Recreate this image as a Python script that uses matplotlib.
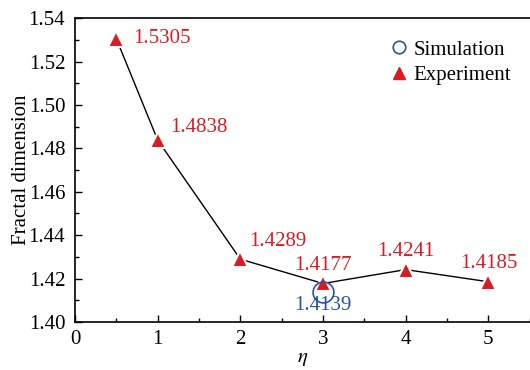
import numpy as np
import matplotlib.pyplot as plt
from matplotlib.lines import Line2D
from matplotlib.ticker import MultipleLocator

plt.rcParams['font.family'] = ['Liberation Serif', 'DejaVu Serif']
plt.rcParams['mathtext.fontset'] = 'stix'

# valeurs mesurées (experience) et simulées
eta = [0.5, 1, 2, 3, 4, 5]
fd_exp = [1.5305, 1.4838, 1.4289, 1.4177, 1.4241, 1.4185]
eta_sim = [3]
fd_sim = [1.4139]

red = '#dc1a22'
blue = '#2a52a0'

fig = plt.figure(figsize=(5.3, 3.7), dpi=100)
ax = fig.add_axes([0.1415, 0.13, 0.858, 0.821])

ax.plot(eta, fd_exp, color='black', lw=1, zorder=1)
ax.plot(eta, fd_exp, ls='none', marker='^', ms=11, mfc=red, mec='white', mew=1.5, zorder=3)
ax.plot(eta_sim, fd_sim, ls='none', marker='o', ms=15, mfc='none', mec=blue, mew=1.2, zorder=4)

# étiquettes des valeurs
offsets = [(12, 0, 'left', 'center'), (9, 9, 'left', 'center'), (6, 13, 'left', 'center'),
           (0, 6, 'center', 'bottom'), (0, 6, 'center', 'bottom'), (0, 6, 'center', 'bottom')]
for x, y, (dx, dy, ha, va) in zip(eta, fd_exp, offsets):
    ax.annotate('%.4f' % y, (x, y), xytext=(dx, dy), textcoords='offset points',
                ha=ha, va=va, color=red, fontsize=15)
for x, y in zip(eta_sim, fd_sim):
    ax.annotate('%.4f' % y, (x, y), xytext=(0, -3), textcoords='offset points',
                ha='center', va='top', color=blue, fontsize=15)

ax.set_xlim(0, 5.5)
ax.set_ylim(1.40, 1.54)
ax.xaxis.set_major_locator(MultipleLocator(1))
ax.xaxis.set_minor_locator(MultipleLocator(0.5))
ax.yaxis.set_major_locator(MultipleLocator(0.02))
ax.yaxis.set_minor_locator(MultipleLocator(0.01))
ax.yaxis.set_major_formatter(plt.FormatStrFormatter('%.2f'))
ax.tick_params(which='both', direction='in', labelsize=15, width=1)
ax.tick_params(which='major', length=5)
ax.tick_params(which='minor', length=3)
ax.tick_params(axis='x', which='major', pad=6)
ax.tick_params(axis='y', which='major', pad=7)
ax.spines['right'].set_visible(False)
for s in ['top', 'left', 'bottom']:
    ax.spines[s].set_linewidth(1.2)
ax.set_xlabel(r'$\eta$', fontsize=15, labelpad=0)
ax.set_ylabel('Fractal dimension', fontsize=15, labelpad=-2)

handles = [Line2D([], [], ls='none', marker='o', ms=9, mfc='none', mec=blue, mew=1.2),
           Line2D([], [], ls='none', marker='^', ms=9, mfc=red, mec=red)]
ax.legend(handles, ['Simulation', 'Experiment'], loc='upper right',
          bbox_to_anchor=(1.0, 0.99), frameon=False, fontsize=15,
          handletextpad=0.1, labelspacing=0.3, handlelength=1.2)

fig.savefig('out.png', dpi=100)
